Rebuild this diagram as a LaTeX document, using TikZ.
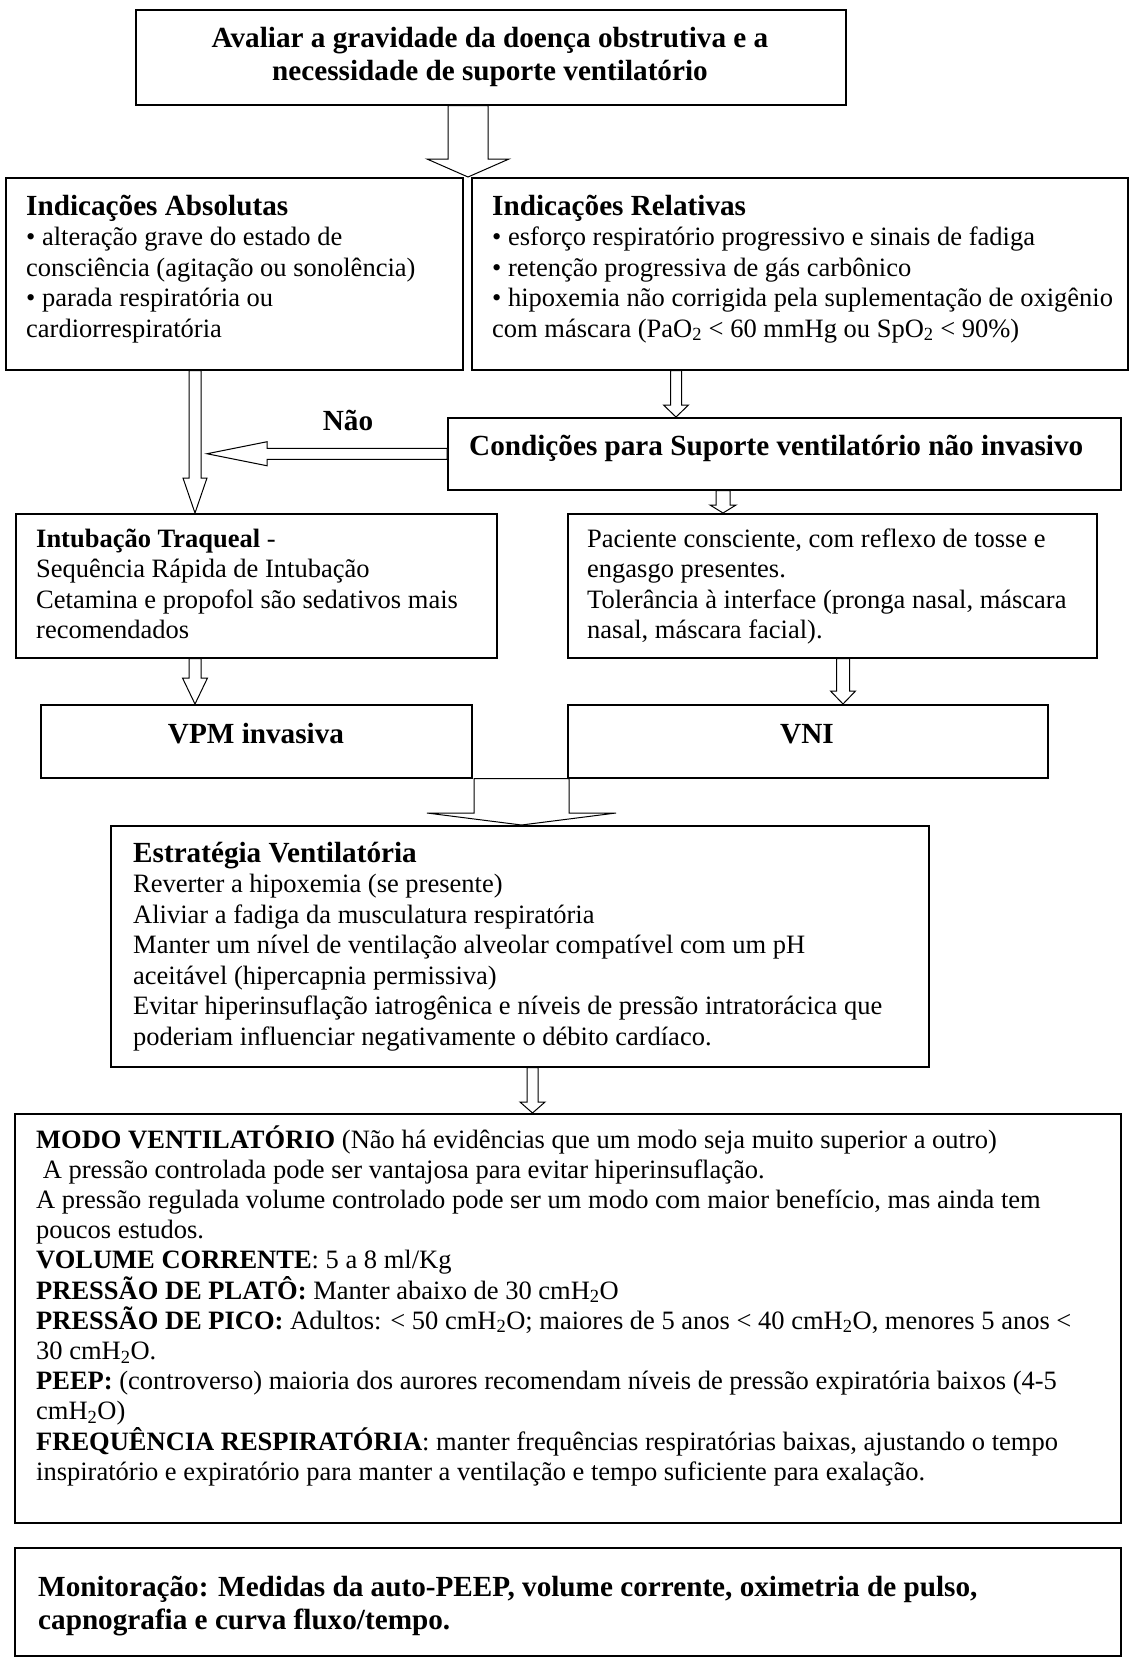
\documentclass[tikz,border=0pt]{standalone}
\usepackage{fontspec}
\setmainfont{Liberation Serif}
\usetikzlibrary{calc}

% type sizes (picture unit: 1pt)
\newcommand\bodysize{\fontsize{26.5pt}{30.5pt}\selectfont}
\newcommand\headsize{\fontsize{29.2pt}{33.6pt}\selectfont\bfseries}
\newcommand\boxtxt[2]{\parbox[t]{#1}{\raggedright\bodysize #2}}
\newcommand\cmhtwo{cmH\textsubscript{2}O}

% vertical block arrow: from anchor, to anchor, x, shaft half width, head half width, head length
\newcommand\vblk[6]{%
  \draw[blk] let \p1=(#1), \p2=(#2) in
    (#3pt-#4pt,\y1) -- (#3pt-#4pt,\y2+#6pt) -- (#3pt-#5pt,\y2+#6pt) -- (#3pt,\y2)
    -- (#3pt+#5pt,\y2+#6pt) -- (#3pt+#4pt,\y2+#6pt) -- (#3pt+#4pt,\y1) -- cycle;}
% leftward block arrow: from anchor, tip x, shaft half width, head half width, head length
\newcommand\hblk[5]{%
  \draw[blk] let \p1=(#1) in
    (\x1,\y1+#3pt) -- (#2pt+#5pt,\y1+#3pt) -- (#2pt+#5pt,\y1+#4pt) -- (#2pt,\y1)
    -- (#2pt+#5pt,\y1-#4pt) -- (#2pt+#5pt,\y1-#3pt) -- (\x1,\y1-#3pt) -- cycle;}

\begin{document}
\begin{tikzpicture}[x=1pt,y=-1pt,
  box/.style={draw, line width=1.5pt, inner sep=0pt, anchor=north west},
  txt/.style={inner sep=0pt, anchor=base west},
  ctxt/.style={inner sep=0pt, anchor=base},
  blk/.style={draw, fill=white, line width=1pt, line join=miter}]

\useasboundingbox (0,0) rectangle (1129,1657);

% boxes
\node[box, minimum width=710pt, minimum height=95pt]  (top)   at (135,9)    {};
\node[box, minimum width=457pt, minimum height=192pt] (abs)   at (5,177)    {};
\node[box, minimum width=656pt, minimum height=192pt] (rel)   at (471,177)  {};
\node[box, minimum width=673pt, minimum height=72pt]  (cond)  at (447,417)  {};
\node[box, minimum width=481pt, minimum height=144pt] (intub) at (15,513)   {};
\node[box, minimum width=529pt, minimum height=144pt] (pac)   at (567,513)  {};
\node[box, minimum width=431pt, minimum height=73pt]  (vpm)   at (40,704)   {};
\node[box, minimum width=480pt, minimum height=73pt]  (vni)   at (567,704)  {};
\node[box, minimum width=818pt, minimum height=241pt] (estr)  at (110,825)  {};
\node[box, minimum width=1106pt, minimum height=409pt] (modo) at (14,1113)  {};
\node[box, minimum width=1106pt, minimum height=108pt] (mon)  at (14,1547)  {};

% texts
\node[ctxt] (topT) at (490,47) {\parbox[t]{700pt}{\centering\headsize
  Avaliar a gravidade da doença obstrutiva e a\\
  necessidade de suporte ventilatório}};

\node[txt] (absT) at (26,215) {\boxtxt{430pt}{%
  {\headsize Indicações Absolutas}\\
  • alteração grave do estado de\\
  consciência (agitação ou sonolência)\\
  • parada respiratória ou\\
  cardiorrespiratória}};

\node[txt] (relT) at (492,215) {\boxtxt{640pt}{%
  {\headsize Indicações Relativas}\\
  • esforço respiratório progressivo e sinais de fadiga\\
  • retenção progressiva de gás carbônico\\
  • hipoxemia não corrigida pela suplementação de oxigênio\\
  com máscara (PaO\textsubscript{2} < 60 mmHg ou SpO\textsubscript{2} < 90\%)}};

\node[txt] (condT) at (469,455) {\headsize Condições para Suporte ventilatório não invasivo};
\node[ctxt] (nao) at (348,430) {\headsize Não};

\node[txt] (intubT) at (36,547) {\boxtxt{460pt}{%
  \textbf{Intubação Traqueal} -\\
  Sequência Rápida de Intubação\\
  Cetamina e propofol são sedativos mais\\
  recomendados}};

\node[txt] (pacT) at (587,547) {\boxtxt{510pt}{%
  Paciente consciente, com reflexo de tosse e\\
  engasgo presentes.\\
  Tolerância à interface (pronga nasal, máscara\\
  nasal, máscara facial).}};

\node[ctxt] (vpmT) at (256,743) {\headsize VPM invasiva};
\node[ctxt] (vniT) at (807,743) {\headsize VNI};

\node[txt] (estrT) at (133,862) {\boxtxt{790pt}{%
  {\headsize Estratégia Ventilatória}\\
  Reverter a hipoxemia (se presente)\\
  Aliviar a fadiga da musculatura respiratória\\
  Manter um nível de ventilação alveolar compatível com um pH\\
  aceitável (hipercapnia permissiva)\\
  Evitar hiperinsuflação iatrogênica e níveis de pressão intratorácica que\\
  poderiam influenciar negativamente o débito cardíaco.}};

\node[txt] (modoT) at (36,1148) {\parbox[t]{1080pt}{\raggedright\fontsize{26.5pt}{30.2pt}\selectfont
  \textbf{MODO VENTILATÓRIO} (Não há evidências que um modo seja muito superior a outro)\\
  \hspace*{6.6pt}A pressão controlada pode ser vantajosa para evitar hiperinsuflação.\\
  A pressão regulada volume controlado pode ser um modo com maior benefício, mas ainda tem\\
  poucos estudos.\\
  \textbf{VOLUME CORRENTE}: 5 a 8 ml/Kg\\
  \textbf{PRESSÃO DE PLATÔ:} Manter abaixo de 30 \cmhtwo\\
  \textbf{PRESSÃO DE PICO:} Adultos: < 50 \cmhtwo; maiores de 5 anos < 40 \cmhtwo, menores 5 anos <\\
  30 \cmhtwo.\\
  \textbf{PEEP:} (controverso) maioria dos aurores recomendam níveis de pressão expiratória baixos (4-5\\
  \cmhtwo)\\
  \textbf{FREQUÊNCIA RESPIRATÓRIA}: manter frequências respiratórias baixas, ajustando o tempo\\
  inspiratório e expiratório para manter a ventilação e tempo suficiente para exalação.}};

\node[txt] (monT) at (38,1596) {\parbox[t]{1080pt}{\raggedright\fontsize{29.2pt}{33pt}\selectfont\bfseries
  Monitoração: Medidas da auto-PEEP, volume corrente, oximetria de pulso,\\
  capnografia e curva fluxo/tempo.}};

% block arrows
\vblk{top.south}{abs.north}{468}{20}{41}{18}
\vblk{abs.south}{intub.north}{195}{6}{12}{35}
\vblk{rel.south}{cond.north}{676}{5.5}{12.5}{12}
\vblk{cond.south}{pac.north}{723}{7}{13}{8}
\vblk{intub.south}{vpm.north}{195}{6}{12.5}{26}
\vblk{pac.south}{vni.north}{843}{6.5}{12.5}{13}
\vblk{vpm.south}{estr.north}{521.5}{47.5}{94.5}{12}
\vblk{estr.south}{modo.north}{532.5}{5.5}{12.5}{11}
\hblk{cond.west}{207}{5.5}{12}{60}

\end{tikzpicture}
\end{document}
